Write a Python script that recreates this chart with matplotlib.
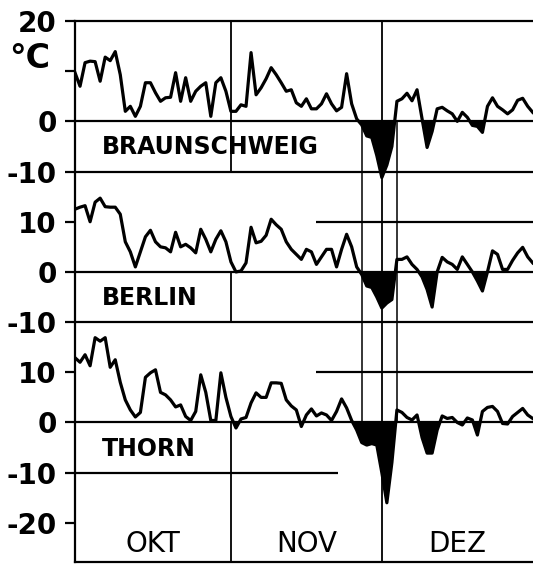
"""Daily mean temperatures Oct-Dec for three stations, stacked on one axis."""
import matplotlib
matplotlib.use("Agg")
import matplotlib.pyplot as plt
import numpy as np

# daily values, Oct 1 .. Dec 31 (deg C)
braunschweig = [
    9.7, 7.0, 11.7, 12.0, 11.9, 8.0, 12.8, 12.1, 13.9, 9.3,
    2.0, 3.0, 1.0, 3.0, 7.7, 7.7, 5.7, 4.0, 4.7, 4.8,
    9.7, 4.0, 8.7, 4.0, 6.0, 7.0, 7.7, 1.0, 7.7, 8.7,
    6.0, 2.0, 2.0, 3.3, 3.0, 13.7, 5.3, 6.7, 8.5, 10.7,
    9.3, 7.7, 6.0, 6.3, 3.7, 3.0, 4.5, 2.5, 2.5, 3.5,
    5.5, 3.5, 2.1, 2.8, 9.5, 3.5, 0.5, -0.7, -2.9, -3.2,
    -6.8, -11.2, -8.7, -5.0, 4.0, 4.5, 5.6, 4.1, 6.3, 0.5,
    -5.2, -2.0, 2.5, 2.8, 2.1, 1.5, 0.0, 1.8, 0.8, -0.8,
    -1.0, -2.2, 3.0, 4.7, 3.0, 2.3, 1.5, 2.3, 4.2, 4.6,
    3.0, 1.8,
]
berlin = [
    12.5, 12.9, 13.2, 10.0, 13.9, 14.7, 13.0, 12.9, 12.9, 11.5,
    6.0, 4.0, 1.0, 4.0, 7.0, 8.3, 6.0, 5.0, 4.8, 4.0,
    7.9, 5.0, 5.5, 4.8, 3.8, 8.5, 6.5, 4.0, 6.5, 8.2,
    6.0, 2.0, 0.0, 0.2, 1.8, 8.9, 5.8, 6.1, 7.3, 10.5,
    9.4, 8.5, 6.0, 4.5, 3.5, 2.5, 4.5, 4.0, 1.5, 3.0,
    4.5, 4.5, 1.0, 4.5, 7.5, 5.0, 1.0, -0.5, -2.8, -3.1,
    -5.0, -7.2, -6.2, -5.5, 2.5, 2.5, 3.0, 1.5, 0.5, -1.0,
    -3.5, -7.0, 0.0, 2.9, 2.0, 1.5, 0.5, 3.0, 1.5, 0.0,
    -1.8, -3.8, 0.0, 4.2, 3.5, 0.5, 0.5, 2.3, 3.8, 4.9,
    3.0, 1.8,
]
thorn = [
    12.9, 12.0, 13.5, 11.3, 16.9, 16.2, 16.9, 11.0, 12.5, 8.0,
    4.5, 2.5, 1.1, 2.0, 9.0, 9.9, 10.5, 6.0, 5.5, 4.5,
    3.1, 3.5, 1.2, 0.4, 2.2, 9.5, 6.0, 0.4, 0.4, 9.9,
    5.0, 1.2, -1.1, 0.7, 1.0, 3.9, 5.9, 5.0, 5.0, 7.9,
    7.9, 7.8, 4.5, 3.3, 2.5, -0.8, 1.5, 2.7, 1.3, 1.9,
    1.5, 0.4, 2.2, 4.7, 2.9, 0.4, -1.5, -4.0, -4.5, -4.2,
    -4.5, -10.0, -16.0, -8.0, 2.5, 2.0, 1.0, 0.5, 1.5, -3.0,
    -6.1, -6.1, -1.5, 1.3, 0.8, 1.0, 0.0, -0.5, 0.9, 0.5,
    -2.5, 2.2, 3.0, 3.2, 2.2, -0.2, -0.3, 1.2, 2.0, 2.8,
    1.5, 0.8,
]
stations = ["BRAUNSCHWEIG", "BERLIN", "THORN"]
offsets = [0, -30, -60]
months = ["OKT", "NOV", "DEZ"]
month_starts = [0, 31, 61, 92]

tick_pos = [20, 10, 0, -10, -20, -30, -40, -50, -60, -70, -80]
tick_txt = ["20", "", "0", "-10", "10", "0", "-10", "10", "0", "-10", "-20"]

W, H = 533, 566
fig = plt.figure(figsize=(W / 100, H / 100), dpi=100)
ax = fig.add_axes([75 / W, 1 - 562 / H, 1 - 75 / W, (562 - 21) / H])

x_end = (W - 75) / 5.03
ax.set_xlim(0, x_end)
ax.set_ylim(-87.8, 20)

lw_frame = 1.6
for side in ["left", "top", "bottom"]:
    ax.spines[side].set_linewidth(lw_frame)
ax.spines["right"].set_visible(False)

# horizontal guide lines
for y in [0, -10, -30, -40, -60]:
    ax.axhline(y, color="black", lw=lw_frame)
ax.hlines([-20, -50], 48, x_end, color="black", lw=lw_frame)
ax.hlines(-70, 0, 52.3, color="black", lw=lw_frame)

# month boundaries
nov = month_starts[1]
ax.vlines(nov, -10, 20, color="black", lw=1.3)
ax.vlines(nov, -40, -30, color="black", lw=1.3)
ax.vlines(nov, -87.8, -60, color="black", lw=1.3)
ax.axvline(month_starts[2], color="black", lw=1.3)
ax.vlines([57, 64], -60, 0, color="black", lw=1.1)

# temperature curves
days = np.arange(len(braunschweig))
for vals, off in zip([braunschweig, berlin, thorn], offsets):
    t = np.array(vals)
    ax.fill_between(days, t + off, off, where=t < 0, interpolate=True,
                    color="black", lw=0)
    ax.plot(days, t + off, color="black", lw=2.3)

for name, off in zip(stations, offsets):
    ax.text(5.4, off - 5.2, name, fontsize=17, fontweight="bold",
            ha="left", va="center")

for i, m in enumerate(months):
    mid = (month_starts[i] + min(month_starts[i + 1], x_end)) / 2
    ax.text(mid, -84.3, m, fontsize=20, ha="center", va="center")

ax.set_xticks([])
ax.set_yticks(tick_pos)
ax.set_yticklabels(tick_txt, fontsize=20, fontweight="bold")
ax.tick_params(axis="y", length=7, width=lw_frame, pad=6)

fig.text(30 / W, 1 - 59 / H, "°C", fontsize=24, fontweight="bold",
         ha="center", va="center")

fig.savefig("out.png", dpi=100)
